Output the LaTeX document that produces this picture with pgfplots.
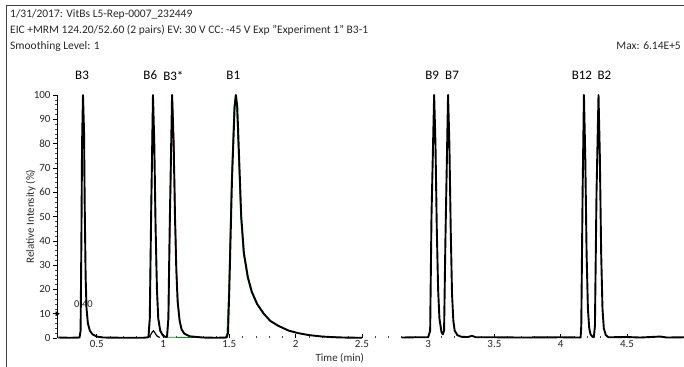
\documentclass[border=0pt]{standalone}
\usepackage{pgfplots}
\pgfplotsset{compat=1.18}
\usepackage{fontspec}
\setmainfont{Carlito}
\definecolor{txt}{RGB}{40,40,40}
\definecolor{grn}{RGB}{20,140,40}
\definecolor{rd}{RGB}{200,30,30}
\begin{document}
\begin{tikzpicture}[x=1bp,y=1bp]
\path[use as bounding box] (-57,-28) rectangle (627,338);
\draw[line width=0.7bp, black!75] (-51,-40) -- (-51,333) -- (640,333);
\node[anchor=west, text=txt, font=\fontsize{11.5bp}{13bp}\selectfont, inner sep=0] at (-47,324) {1/31/2017: VitBs L5-Rep-0007\_232449};
\node[anchor=west, text=txt, font=\fontsize{11.5bp}{13bp}\selectfont, inner sep=0] at (-47,308) {EIC +MRM 124.20/52.60 (2 pairs) EV: 30 V CC: -45 V Exp "Experiment 1" B3-1};
\node[anchor=west, text=txt, font=\fontsize{11.5bp}{13bp}\selectfont, inner sep=0] at (-47,292) {Smoothing Level: 1};
\node[anchor=east, text=txt, font=\fontsize{11.5bp}{13bp}\selectfont, inner sep=0] at (624,292) {Max: 6.14E+5};
\begin{axis}[
  at={(0,0)}, anchor=south west,
  width=627bp, height=243bp, scale only axis,
  xmin=0.2, xmax=4.93, ymin=0, ymax=100,
  axis x line*=bottom, axis y line*=left,
  x axis line style={draw=none},
  y axis line style={-, line width=0.7bp},
  xtick={0.5,1,1.5,2,2.5,3,3.5,4,4.5},
  ytick={0,10,...,100},
  minor x tick num=4, minor y tick num=4,
  xtick align=inside, ytick align=outside,
  major tick length=4bp, minor tick length=2bp,
  tick style={black, line width=0.6bp},
  minor tick style={black!70, line width=0.5bp},
  clip=false,
  tick label style={font=\fontsize{11bp}{13bp}\selectfont, text=txt},
  yticklabel style={xshift=1bp},
  xticklabel style={yshift=1bp},
  /pgf/number format/assume math mode=true,
  xlabel={Time (min)}, ylabel={Relative Intensity (\%)},
  label style={font=\fontsize{11bp}{13bp}\selectfont, text=txt},
  xlabel style={at={(axis description cs:0.451,-0.084)}, anchor=center},
  ylabel style={at={(axis description cs:-0.042,0.5)}, anchor=center},
  every axis plot/.append style={line join=round},
]
% annotation under the trace
\node[font=\fontsize{10.5bp}{12bp}\selectfont, text=txt] at (axis cs:0.40,14) {0.40};
% green / red underlying traces
\addplot[grn, line width=0.8bp] coordinates {
(0.89,0.3)(0.898,8)(0.908,50)(0.922,100)(0.932,80)(0.942,45)(0.952,20)(0.962,8)(0.977,3)(0.997,1)(1.02,0.3)
(1.30,0.2)(1.47,0.2)(1.482,2)(1.495,20)(1.515,65)(1.535,95)(1.545,100)(1.555,95)(1.565,80)(1.585,50)(1.605,35)(1.635,25)(1.665,19)(1.705,14)(1.755,10)(1.805,7)(1.865,5)(1.945,3)(2.015,2)(2.1,1.2)(2.2,0.6)(2.3,0.3)(2.4,0.1)(2.5,0.1)};
\addplot[rd, line width=0.8bp] coordinates {
(1.03,0.5)(1.043,8)(1.053,45)(1.071,100)(1.083,80)(1.093,50)(1.103,28)(1.113,15)(1.128,7)(1.143,3.5)(1.163,1.8)(1.2,0.7)(1.3,0.2)};
% small secondary peak
\addplot[black, line width=1.2bp] coordinates {
(0.89,0.2)(0.905,1.2)(0.92,2.6)(0.928,3)(0.94,2)(0.955,0.8)(0.975,0.2)};
% main trace, first window
\addplot[black, line width=1.9bp] coordinates {
(0.21,0.2)(0.30,0.1)(0.37,0.2)(0.378,3)(0.384,40)(0.389,80)(0.396,100)(0.404,85)(0.409,55)(0.416,25)(0.423,12)(0.433,6)(0.448,3)(0.468,1.5)(0.50,0.6)(0.55,0.2)(0.70,0.1)(0.85,0.1)
(0.89,0.3)(0.90,8)(0.91,50)(0.924,100)(0.934,80)(0.944,45)(0.954,20)(0.964,8)(0.979,3)(0.999,1)(1.02,0.4)
(1.03,0.5)(1.04,8)(1.05,45)(1.068,100)(1.08,80)(1.09,50)(1.10,28)(1.11,15)(1.125,7)(1.14,3.5)(1.16,1.8)(1.2,0.7)(1.3,0.2)(1.40,0.1)
(1.48,0.2)(1.49,2)(1.50,20)(1.52,65)(1.54,95)(1.55,100)(1.56,95)(1.57,80)(1.59,50)(1.61,35)(1.64,25)(1.67,19)(1.71,14)(1.76,10)(1.81,7)(1.87,5)(1.95,3)(2.02,2)(2.1,1.2)(2.2,0.6)(2.3,0.3)(2.4,0.15)(2.5,0.1)};
% main trace, second window
\addplot[black, line width=1.9bp] coordinates {
(2.8,0.2)(2.9,0.3)(3.0,0.3)(3.015,3)(3.025,50)(3.045,100)(3.055,80)(3.065,45)(3.075,20)(3.085,8)(3.10,2.5)(3.11,1.5)
(3.12,3)(3.13,40)(3.15,100)(3.16,80)(3.17,45)(3.18,18)(3.19,7)(3.20,3)(3.22,1.2)(3.25,0.5)(3.3,0.4)(3.33,0.9)(3.36,0.3)(3.5,0.3)(3.7,0.2)(4.0,0.3)(4.15,0.2)
(4.155,5)(4.165,60)(4.175,100)(4.185,75)(4.195,35)(4.205,12)(4.215,4)(4.225,1.5)(4.24,0.5)(4.25,0.4)
(4.258,5)(4.27,60)(4.285,100)(4.295,75)(4.305,35)(4.315,12)(4.325,4)(4.34,1.2)(4.36,0.3)(4.5,0.4)(4.6,0.2)(4.75,0.6)(4.8,0.2)(4.93,0.3)};
% marker on the y axis
\addplot[only marks, mark=triangle*, mark size=2.4bp, mark options={rotate=-90, black}] coordinates {(0.2,10)};
% peak labels
\begin{scope}[every node/.style={font=\fontsize{13bp}{15bp}\selectfont, text=black}]
\node at (axis cs:0.389,108) {B3};
\node at (axis cs:0.904,108) {B6};
\node at (axis cs:1.078,108) {B3*};
\node at (axis cs:1.53,108) {B1};
\node at (axis cs:3.03,108) {B9};
\node at (axis cs:3.18,108) {B7};
\node at (axis cs:4.16,108) {B12};
\node at (axis cs:4.33,108) {B2};
\end{scope}
\end{axis}
\end{tikzpicture}
\end{document}
